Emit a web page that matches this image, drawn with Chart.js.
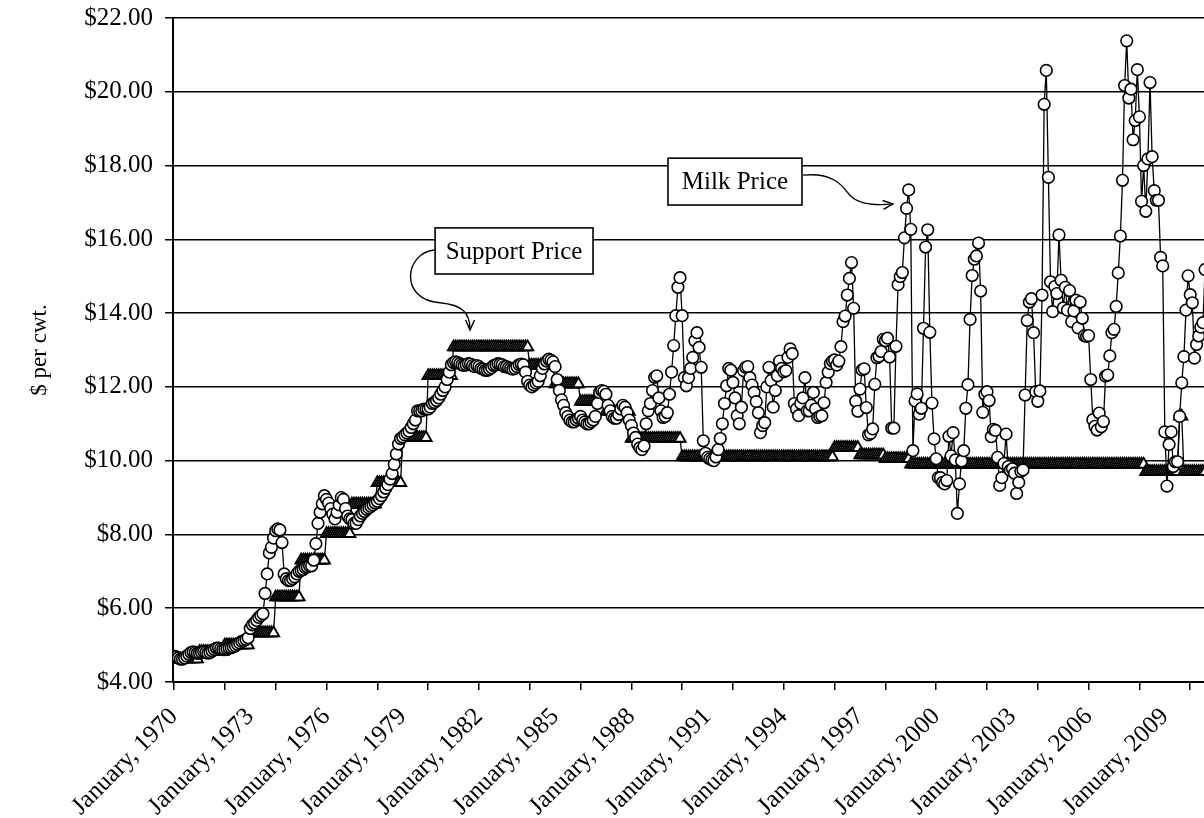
<!DOCTYPE html>
<html><head><meta charset="utf-8">
<script src="https://cdn.jsdelivr.net/npm/chart.js@4.4.1/dist/chart.umd.min.js"></script>
<style>html,body{margin:0;padding:0;background:#fff;}canvas{display:block;}</style>
</head><body>
<canvas id="c" width="1204" height="818"></canvas>
<script>
// Monthly data, index 0 = January 1970
const milkPrice = [
  4.70,4.68,4.65,4.62,4.62,4.65,4.70,4.75,4.80,4.82,4.80,4.78,        // 1970
  4.78,4.80,4.82,4.80,4.78,4.80,4.84,4.88,4.92,4.92,4.90,4.88,        // 1971
  4.88,4.90,4.92,4.93,4.95,4.98,5.02,5.06,5.10,5.12,5.15,5.20,        // 1972
  5.45,5.55,5.60,5.67,5.75,5.80,5.85,6.40,6.93,7.50,7.65,7.90,        // 1973
  8.10,8.15,8.12,7.78,6.93,6.80,6.75,6.75,6.80,6.85,6.93,7.00,        // 1974
  7.02,7.05,7.10,7.12,7.15,7.15,7.30,7.75,8.30,8.60,8.83,9.05,        // 1975
  8.95,8.85,8.70,8.55,8.42,8.60,8.80,9.00,8.95,8.70,8.50,8.42,        // 1976
  8.40,8.30,8.30,8.40,8.50,8.57,8.62,8.68,8.72,8.76,8.80,8.85,        // 1977
  8.90,8.97,9.05,9.15,9.25,9.35,9.50,9.65,9.90,10.18,10.45,10.60,     // 1978
  10.64,10.70,10.75,10.80,10.90,11.00,11.10,11.35,11.35,11.35,11.40,11.40, // 1979
  11.40,11.45,11.55,11.58,11.63,11.70,11.80,11.90,12.00,12.20,12.40,12.60, // 1980
  12.66,12.68,12.66,12.63,12.60,12.58,12.60,12.63,12.62,12.58,12.55,12.58, // 1981
  12.55,12.50,12.48,12.45,12.45,12.48,12.52,12.58,12.60,12.63,12.62,12.60, // 1982
  12.55,12.55,12.52,12.50,12.48,12.50,12.55,12.60,12.62,12.60,12.40,12.15, // 1983
  12.05,12.00,12.05,12.10,12.15,12.30,12.50,12.62,12.70,12.75,12.72,12.68, // 1984
  12.55,12.20,11.90,11.65,11.50,11.30,11.20,11.10,11.05,11.05,11.10,11.15, // 1985
  11.20,11.10,11.05,11.00,11.00,11.05,11.10,11.20,11.55,11.85,11.90,11.88, // 1986
  11.80,11.50,11.35,11.20,11.15,11.15,11.25,11.40,11.50,11.45,11.30,11.10, // 1987
  10.95,10.75,10.63,10.45,10.35,10.30,10.40,11.00,11.35,11.55,11.90,12.26, // 1988
  12.30,11.70,11.35,11.17,11.20,11.30,11.80,12.40,13.12,13.93,14.70,14.96, // 1989
  13.93,12.25,12.03,12.25,12.50,12.80,13.25,13.47,13.07,12.53,10.54,10.20, // 1990
  10.09,10.05,10.02,10.00,10.10,10.30,10.60,11.00,11.55,12.03,12.50,12.45, // 1991
  12.12,11.70,11.22,11.00,11.45,12.44,12.53,12.55,12.25,12.05,11.85,11.60, // 1992
  11.30,10.76,10.95,11.03,12.00,12.53,12.17,11.45,11.90,12.30,12.70,12.50, // 1993
  12.41,12.44,12.80,13.03,12.90,11.55,11.40,11.22,11.55,11.70,12.25,11.35, // 1994
  11.35,11.50,11.85,11.40,11.17,11.20,11.22,11.57,12.12,12.40,12.63,12.70, // 1995
  12.73,12.59,12.70,13.09,13.77,13.92,14.49,14.94,15.37,14.13,11.61,11.34, // 1996
  11.94,12.46,12.49,11.44,10.70,10.74,10.86,12.07,12.79,12.83,12.96,13.29, // 1997
  13.25,13.32,12.81,10.88,10.88,13.10,14.77,14.99,15.10,16.04,16.84,17.34, // 1998
  16.27,10.27,11.62,11.81,11.26,11.42,13.59,15.79,16.26,13.48,11.56,10.59, // 1999
  10.05,9.54,9.54,9.41,9.37,9.46,10.66,10.13,10.76,10.02,8.57,9.37,        // 2000
  9.99,10.27,11.42,12.06,13.83,15.02,15.46,15.55,15.90,14.60,11.31,11.80,  // 2001
  11.87,11.63,10.65,10.85,10.82,10.09,9.33,9.54,9.92,10.72,9.84,9.74,      // 2002
  9.78,9.66,9.11,9.41,9.71,9.75,11.78,13.80,14.30,14.39,13.47,11.87,       // 2003
  11.61,11.89,14.49,19.66,20.58,17.68,14.85,14.04,14.72,14.53,16.12,14.89, // 2004
  14.14,14.70,14.08,14.61,13.77,14.06,14.35,13.60,14.30,13.86,13.39,13.37, // 2005
  13.39,12.20,11.11,10.93,10.83,11.29,10.92,11.06,12.29,12.32,12.84,13.47, // 2006
  13.56,14.18,15.09,16.09,17.60,20.17,21.38,19.83,20.07,18.70,19.22,20.60, // 2007
  19.32,17.03,18.00,16.76,18.18,20.25,18.24,17.32,17.06,17.06,15.51,15.28, // 2008
  10.78,9.31,10.44,10.78,9.84,9.97,9.97,11.20,12.11,12.82,14.08,15.01,     // 2009
  14.50,14.28,12.78,13.15,13.38,13.62,13.74,15.18,16.26,16.94              // 2010
];
const supportPrice = [
  4.62,4.62,4.62,4.62,4.62,4.62,4.62,4.62,4.62,4.62,4.62,4.62,        // 1970
  4.82,4.82,4.82,4.82,4.82,4.82,4.82,4.82,4.82,4.82,4.82,4.82,        // 1971
  5.00,5.00,5.00,5.00,5.00,5.00,5.00,5.00,5.00,5.00,5.00,5.00,        // 1972
  5.33,5.33,5.33,5.33,5.33,5.33,5.33,5.33,5.33,5.33,5.33,5.33,        // 1973
  6.30,6.30,6.30,6.30,6.30,6.30,6.30,6.30,6.30,6.30,6.30,6.30,        // 1974
  7.30,7.30,7.30,7.30,7.30,7.30,7.30,7.30,7.30,7.30,7.30,7.30,        // 1975
  8.02,8.02,8.02,8.02,8.02,8.02,8.02,8.02,8.02,8.02,8.02,8.02,        // 1976
  8.82,8.82,8.82,8.82,8.82,8.82,8.82,8.82,8.82,8.82,8.82,8.82,        // 1977
  9.40,9.40,9.40,9.40,9.40,9.40,9.40,9.40,9.40,9.40,9.40,9.40,        // 1978
  10.62,10.62,10.62,10.62,10.62,10.62,10.62,10.62,10.62,10.62,10.62,10.62, // 1979
  12.30,12.30,12.30,12.30,12.30,12.30,12.30,12.30,12.30,12.30,12.30,12.30, // 1980
  13.08,13.08,13.08,13.08,13.08,13.08,13.08,13.08,13.08,13.08,13.08,13.08, // 1981
  13.08,13.08,13.08,13.08,13.08,13.08,13.08,13.08,13.08,13.08,13.08,13.08, // 1982
  13.08,13.08,13.08,13.08,13.08,13.08,13.08,13.08,13.08,13.08,13.08,13.08, // 1983
  12.58,12.58,12.58,12.58,12.58,12.58,12.58,12.58,12.58,12.58,12.58,12.58, // 1984
  12.08,12.08,12.08,12.08,12.08,12.08,12.08,12.08,12.08,12.08,12.08,12.08, // 1985
  11.60,11.60,11.60,11.60,11.60,11.60,11.60,11.60,11.60,11.60,11.60,11.60, // 1986
  11.33,11.33,11.33,11.33,11.33,11.33,11.33,11.33,11.33,11.33,11.33,11.33, // 1987
  10.60,10.60,10.60,10.60,10.60,10.60,10.60,10.60,10.60,10.60,10.60,10.60, // 1988
  10.60,10.60,10.60,10.60,10.60,10.60,10.60,10.60,10.60,10.60,10.60,10.60, // 1989
  10.10,10.10,10.10,10.10,10.10,10.10,10.10,10.10,10.10,10.10,10.10,10.10, // 1990
  10.10,10.10,10.10,10.10,10.10,10.10,10.10,10.10,10.10,10.10,10.10,10.10, // 1991
  10.10,10.10,10.10,10.10,10.10,10.10,10.10,10.10,10.10,10.10,10.10,10.10, // 1992
  10.10,10.10,10.10,10.10,10.10,10.10,10.10,10.10,10.10,10.10,10.10,10.10, // 1993
  10.10,10.10,10.10,10.10,10.10,10.10,10.10,10.10,10.10,10.10,10.10,10.10, // 1994
  10.10,10.10,10.10,10.10,10.10,10.10,10.10,10.10,10.10,10.10,10.10,10.10, // 1995
  10.35,10.35,10.35,10.35,10.35,10.35,10.35,10.35,10.35,10.35,10.35,10.35, // 1996
  10.15,10.15,10.15,10.15,10.15,10.15,10.15,10.15,10.15,10.15,10.15,10.15, // 1997
  10.05,10.05,10.05,10.05,10.05,10.05,10.05,10.05,10.05,10.05,10.05,10.05, // 1998
  9.90,9.90,9.90,9.90,9.90,9.90,9.90,9.90,9.90,9.90,9.90,9.90,        // 1999
  9.90,9.90,9.90,9.90,9.90,9.90,9.90,9.90,9.90,9.90,9.90,9.90,        // 2000
  9.90,9.90,9.90,9.90,9.90,9.90,9.90,9.90,9.90,9.90,9.90,9.90,        // 2001
  9.90,9.90,9.90,9.90,9.90,9.90,9.90,9.90,9.90,9.90,9.90,9.90,        // 2002
  9.90,9.90,9.90,9.90,9.90,9.90,9.90,9.90,9.90,9.90,9.90,9.90,        // 2003
  9.90,9.90,9.90,9.90,9.90,9.90,9.90,9.90,9.90,9.90,9.90,9.90,        // 2004
  9.90,9.90,9.90,9.90,9.90,9.90,9.90,9.90,9.90,9.90,9.90,9.90,        // 2005
  9.90,9.90,9.90,9.90,9.90,9.90,9.90,9.90,9.90,9.90,9.90,9.90,        // 2006
  9.90,9.90,9.90,9.90,9.90,9.90,9.90,9.90,9.90,9.90,9.90,9.90,        // 2007
  9.90,9.90,9.90,9.70,9.70,9.70,9.70,9.70,9.70,9.70,9.70,9.70,        // 2008
  9.70,9.70,9.70,9.70,9.70,9.70,9.70,11.20,11.20,9.70,9.70,9.70,      // 2009
  9.70,9.70,9.70,9.70,9.70,9.70,9.70,9.70,9.70,9.70                   // 2010
];
const xTickMonths = [0,24,48,72,96,120,144,168,192,216,240,264,288,312,336,360,384,408,432,456,480];
const xLabelMonths = [0,36,72,108,144,180,216,252,288,324,360,396,432,468];
const xLabels = ['January, 1970','January, 1973','January, 1976','January, 1979','January, 1982',
  'January, 1985','January, 1988','January, 1991','January, 1994','January, 1997',
  'January, 2000','January, 2003','January, 2006','January, 2009'];
const yTicks = [4,6,8,10,12,14,16,18,20,22];
const yTitle = '$ per cwt.';

// callouts, positioned in data coordinates (month index, $)
const callouts = [
  { text: 'Milk Price', box: [233.3, 18.20, 296.6, 16.93],
    arrow: [[297.1,17.74],[310.8,17.82],[315.5,17.47],[318.3,17.26],[321.7,16.99],[329.7,16.90],[339.6,16.96]] },
  { text: 'Support Price', box: [123.3, 16.31, 197.9, 15.06],
    arrow: [[123.3,15.71],[109.1,15.66],[105.8,14.36],[125.6,14.28],[136.0,14.22],[139.8,14.03],[139.8,13.54]] }
];

const SERIF = "'Liberation Serif', 'Times New Roman', serif";

const calloutPlugin = {
  id: 'callouts',
  afterDraw(chart) {
    const ctx = chart.ctx, xs = chart.scales.x, ys = chart.scales.y;
    const P = (p) => [xs.getPixelForValue(p[0]), ys.getPixelForValue(p[1])];
    ctx.save();
    callouts.forEach(c => {
      const [x0, y0] = P([c.box[0], c.box[1]]);
      const [x1, y1] = P([c.box[2], c.box[3]]);
      ctx.fillStyle = '#fff';
      ctx.fillRect(x0, y0, x1 - x0, y1 - y0);
      ctx.strokeStyle = '#000'; ctx.lineWidth = 1.6;
      ctx.strokeRect(x0, y0, x1 - x0, y1 - y0);
      ctx.fillStyle = '#000';
      ctx.font = '25px ' + SERIF;
      ctx.textAlign = 'center'; ctx.textBaseline = 'middle';
      ctx.fillText(c.text, (x0 + x1) / 2, (y0 + y1) / 2 + 1);
      const pts = c.arrow.map(P);
      ctx.beginPath();
      ctx.moveTo(pts[0][0], pts[0][1]);
      ctx.bezierCurveTo(pts[1][0], pts[1][1], pts[2][0], pts[2][1], pts[3][0], pts[3][1]);
      ctx.bezierCurveTo(pts[4][0], pts[4][1], pts[5][0], pts[5][1], pts[6][0], pts[6][1]);
      ctx.lineWidth = 1.4; ctx.stroke();
      const e = pts[6], b = pts[5];
      const ang = Math.atan2(e[1] - b[1], e[0] - b[0]);
      const L = 11, spread = 0.42;
      ctx.beginPath();
      ctx.moveTo(e[0] - L * Math.cos(ang - spread), e[1] - L * Math.sin(ang - spread));
      ctx.lineTo(e[0], e[1]);
      ctx.lineTo(e[0] - L * Math.cos(ang + spread), e[1] - L * Math.sin(ang + spread));
      ctx.stroke();
    });
    ctx.restore();
  }
};

const noPad = s => { s.paddingTop = 0; s.paddingBottom = 0; s.paddingLeft = 0; s.paddingRight = 0; };

new Chart(document.getElementById('c'), {
  type: 'line',
  data: {
    datasets: [
      { label: 'Milk Price', data: milkPrice.map((v, i) => ({ x: i, y: v })),
        borderColor: '#000', borderWidth: 1.3, tension: 0, fill: false,
        pointStyle: 'circle', pointRadius: 5.8, pointBackgroundColor: '#fff',
        pointBorderColor: '#000', pointBorderWidth: 1.6, order: 0 },
      { label: 'Support Price', data: supportPrice.map((v, i) => ({ x: i, y: v })),
        borderColor: '#000', borderWidth: 1.3, tension: 0, fill: false,
        pointStyle: 'triangle', pointRadius: 6.5, pointBackgroundColor: '#fff',
        pointBorderColor: '#000', pointBorderWidth: 1.9, order: 1 }
    ]
  },
  options: {
    responsive: false, animation: false, devicePixelRatio: 1, parsing: false,
    layout: { autoPadding: false, padding: { top: 18, right: 0, bottom: 0, left: 0 } },
    plugins: { legend: { display: false }, tooltip: { enabled: false } },
    scales: {
      x: {
        type: 'linear', position: 'bottom', weight: 0, min: -0.5, max: 486.5,
        afterBuildTicks: s => { s.ticks = xTickMonths.map(v => ({ value: v })); },
        ticks: { autoSkip: false, callback: () => '', maxRotation: 0 },
        grid: { drawOnChartArea: false, drawTicks: true, tickLength: 8, color: '#000', lineWidth: 1.5 },
        border: { display: true, color: '#000', width: 2 },
        afterFit: s => { s.height = 8; noPad(s); }
      },
      xl: {
        type: 'linear', position: 'bottom', weight: 1, min: -0.5, max: 486.5,
        afterBuildTicks: s => { s.ticks = xLabelMonths.map(v => ({ value: v })); },
        ticks: { autoSkip: false, minRotation: 45, maxRotation: 45, padding: -2, color: '#000',
          font: { family: SERIF, size: 25, lineHeight: 1.9 },
          callback: v => xLabels[xLabelMonths.indexOf(v)] },
        grid: { display: false },
        border: { display: false },
        afterFit: s => { s.height = 128; noPad(s); }
      },
      y: {
        type: 'linear', min: 4, max: 22,
        afterBuildTicks: s => { s.ticks = yTicks.map(v => ({ value: v })); },
        ticks: { color: '#000', padding: 12, font: { family: SERIF, size: 25 },
          callback: v => '$' + Number(v).toFixed(2) },
        grid: { color: '#000', lineWidth: 1.5, drawTicks: true, tickLength: 8 },
        border: { display: true, color: '#000', width: 2 },
        title: { display: true, text: yTitle, color: '#000', font: { family: SERIF, size: 23 }, padding: { top: 26, bottom: 0 } },
        afterFit: s => { s.width = 173; noPad(s); }
      }
    }
  },
  plugins: [calloutPlugin]
});
</script>
</body></html>
